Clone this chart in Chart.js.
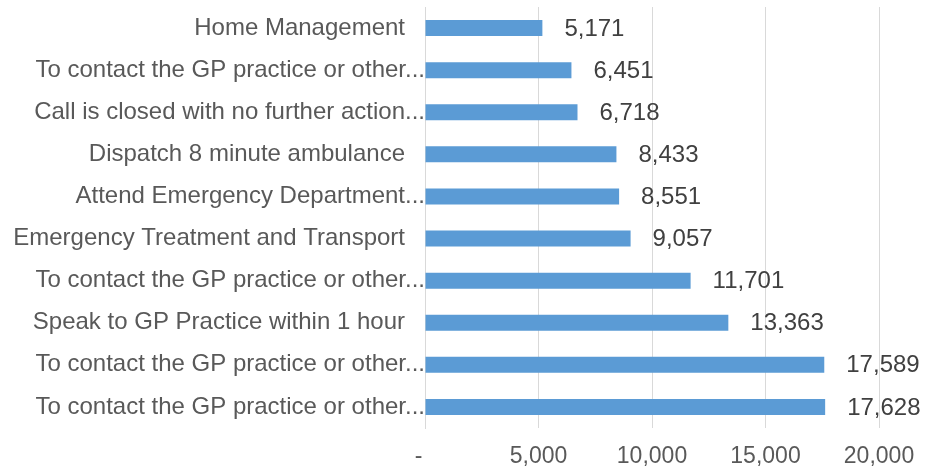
<!DOCTYPE html>
<html>
<head>
<meta charset="utf-8">
<script src="https://cdn.jsdelivr.net/npm/chart.js@4/dist/chart.umd.min.js"></script>
<style>
  html, body { margin: 0; padding: 0; background: #fff; }
  #wrap { width: 925px; height: 471px; }
</style>
</head>
<body>
<div id="wrap"><canvas id="chart" width="925" height="471"></canvas></div>
<script>
// categories, top to bottom as shown
const categories = [
    'Home Management   ',
    'To contact the GP practice or other...',
    'Call is closed with no further action...',
    'Dispatch 8 minute ambulance   ',
    'Attend Emergency Department...',
    'Emergency Treatment and Transport   ',
    'To contact the GP practice or other...',
    'Speak to GP Practice within 1 hour   ',
    'To contact the GP practice or other...',
    'To contact the GP practice or other...'
];
const calls = [5171, 6451, 6718, 8433, 8551, 9057, 11701, 13363, 17589, 17628];
const xTicks = [0, 5000, 10000, 15000, 20000];

const fontFamily = '"Liberation Sans", Arial, sans-serif';
const fmt = v => v.toLocaleString('en-US');

const valueLabels = {
    id: 'valueLabels',
    afterDatasetsDraw(chart) {
        const ctx = chart.ctx;
        const meta = chart.getDatasetMeta(0);
        ctx.save();
        ctx.font = '24px ' + fontFamily;
        ctx.fillStyle = '#404040';
        ctx.textAlign = 'left';
        ctx.textBaseline = 'middle';
        meta.data.forEach((bar, i) => {
            ctx.fillText(fmt(calls[i]), bar.x + 22, bar.y + 1);
        });
        ctx.restore();
    }
};

new Chart(document.getElementById('chart'), {
    type: 'bar',
    data: {
        labels: categories,
        datasets: [{
            data: calls,
            backgroundColor: '#5b9bd5',
            borderWidth: 0,
            categoryPercentage: 1,
            barPercentage: 0.38
        }]
    },
    options: {
        indexAxis: 'y',
        responsive: false,
        animation: false,
        layout: { padding: { top: 7, right: 46, left: 0, bottom: 0 } },
        plugins: { legend: { display: false }, tooltip: { enabled: false } },
        scales: {
            x: {
                min: 0,
                max: 20000,
                afterFit: s => { s.height = 43; s.paddingLeft = 0; s.paddingRight = 0; },
                afterBuildTicks: s => { s.ticks = xTicks.map(v => ({ value: v })); },
                grid: { color: '#d9d9d9', lineWidth: 1, drawTicks: false },
                border: { display: false },
                ticks: {
                    padding: 15,
                    color: '#595959',
                    font: { family: fontFamily, size: 23 },
                    maxRotation: 0,
                    callback: v => v === 0 ? '-  ' : fmt(v)
                }
            },
            y: {
                afterFit: s => { s.width = 425; s.paddingTop = 0; s.paddingBottom = 0; },
                grid: { display: false, drawTicks: false },
                border: { display: true, color: '#d9d9d9' },
                ticks: {
                    padding: 0,
                    color: '#595959',
                    font: { family: fontFamily, size: 24 },
                    autoSkip: false
                }
            }
        }
    },
    plugins: [valueLabels]
});
</script>
</body>
</html>
